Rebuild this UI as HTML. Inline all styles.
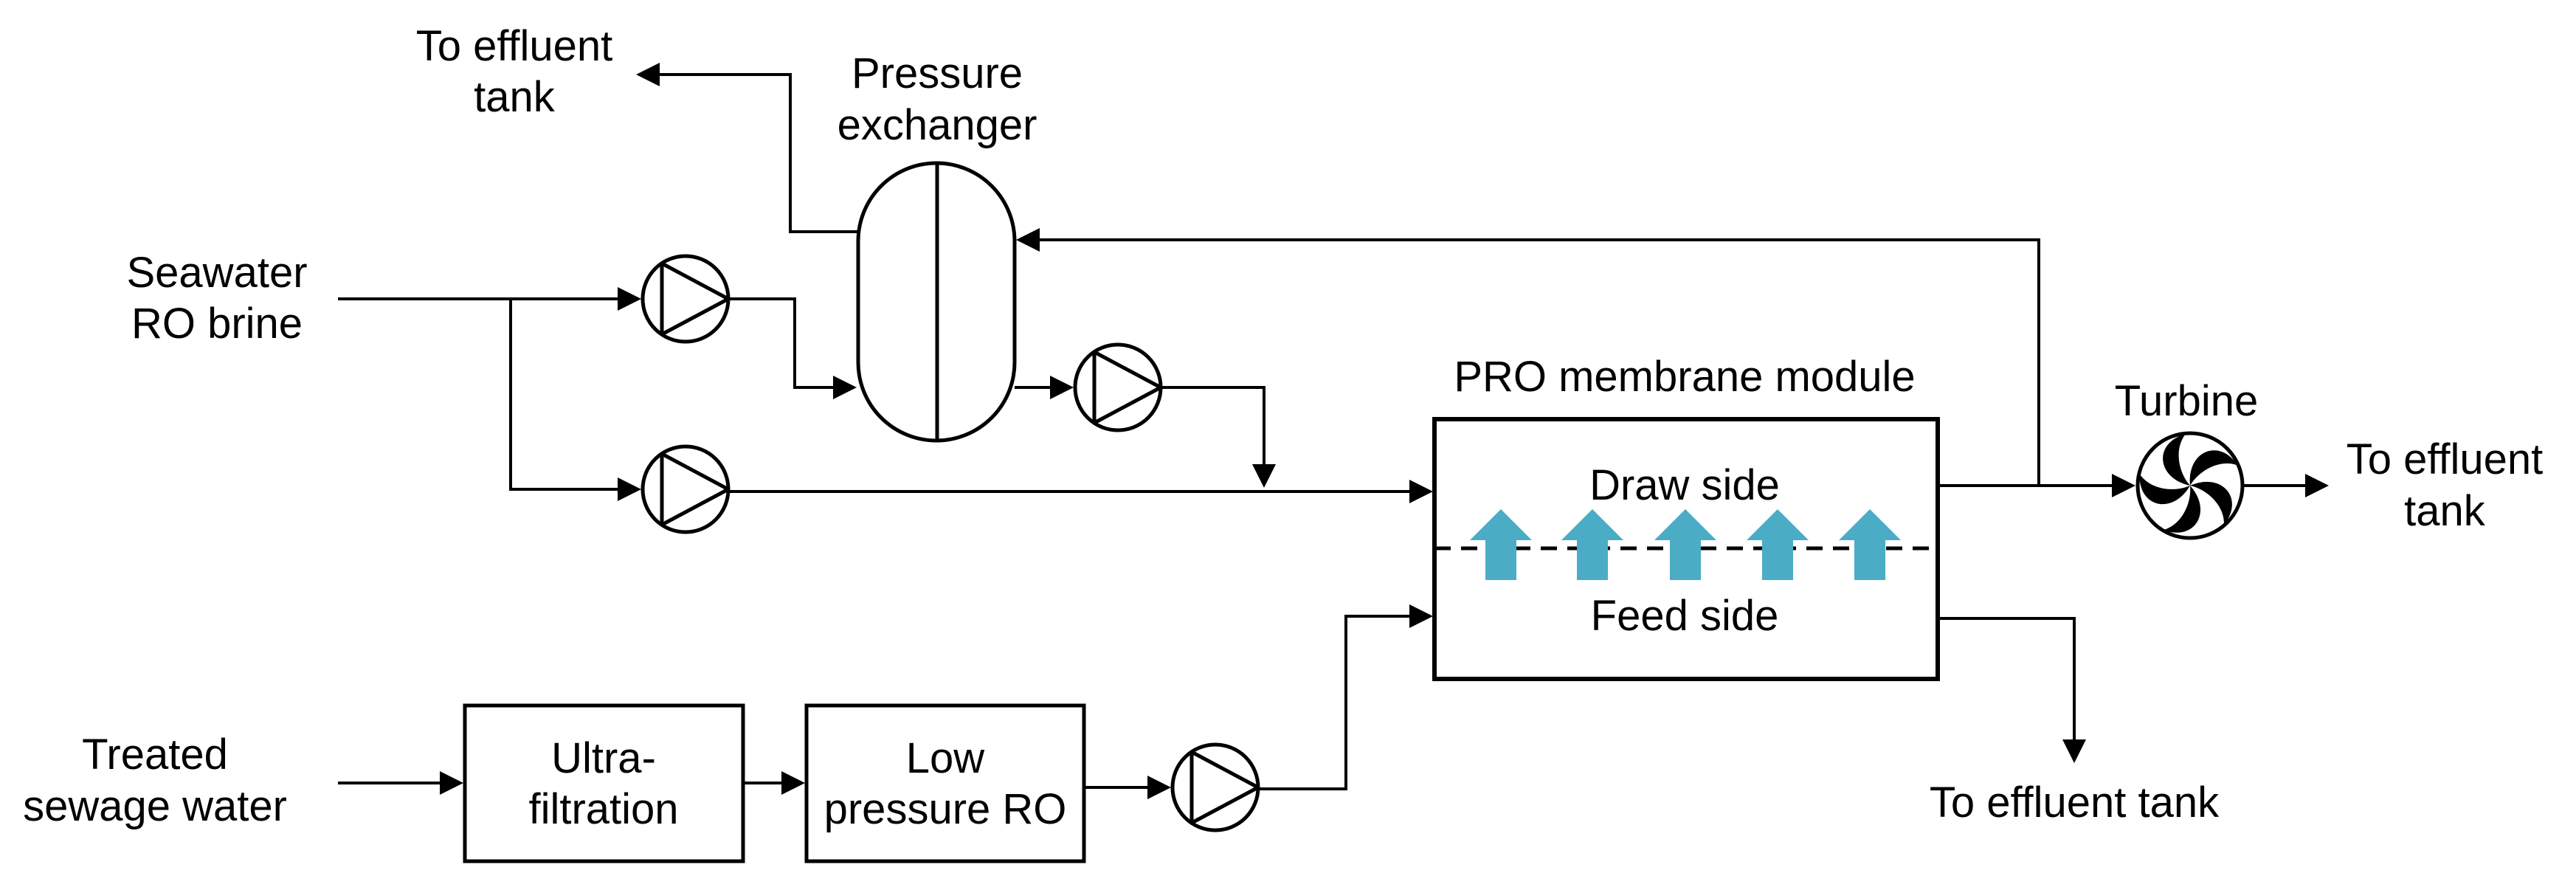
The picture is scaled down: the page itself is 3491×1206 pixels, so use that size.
<!DOCTYPE html>
<html><head><meta charset="utf-8"><style>
html,body{margin:0;padding:0;background:#fff;}
svg{display:block;}
text{font-family:"Liberation Sans",sans-serif;font-size:58px;fill:#000;text-anchor:middle;}
</style></head><body>
<svg width="3491" height="1206" viewBox="0 0 3491 1206" xmlns="http://www.w3.org/2000/svg">
<defs>
<marker id="a" markerWidth="8" markerHeight="8" refX="7" refY="4" orient="auto" markerUnits="strokeWidth">
<path d="M0,0 L8,4 L0,8 Z" fill="#000"/>
</marker>
<g id="pump">
<circle cx="0" cy="0" r="58" fill="#fff" stroke="#000" stroke-width="5"/>
<path d="M-32,-48 L-32,48 L58,0 Z" fill="none" stroke="#000" stroke-width="5" stroke-linejoin="round"/>
</g>
</defs>
<g stroke="#000" stroke-width="4" fill="none">
<polyline points="1163,314 1071,314 1071,101 866,101" marker-end="url(#a)"/>
<polyline points="458,405 865,405" marker-end="url(#a)"/>
<polyline points="692,405 692,663 865,663" marker-end="url(#a)"/>
<polyline points="987,405 1077,405 1077,525 1157,525" marker-end="url(#a)"/>
<polyline points="1375,525 1451,525" marker-end="url(#a)"/>
<polyline points="1573,525 1713,525 1713,657" marker-end="url(#a)"/>
<polyline points="987,666 1938,666" marker-end="url(#a)"/>
<polyline points="2763,657 2763,325 1381,325" marker-end="url(#a)"/>
<polyline points="2626,658 2890,658" marker-end="url(#a)"/>
<polyline points="3040,658 3152,658" marker-end="url(#a)"/>
<polyline points="2626,838 2811,838 2811,1030" marker-end="url(#a)"/>
<polyline points="458,1061 624,1061" marker-end="url(#a)"/>
<polyline points="1007,1061 1087,1061" marker-end="url(#a)"/>
<polyline points="1469,1067 1583,1067" marker-end="url(#a)"/>
<polyline points="1705,1069 1824,1069 1824,835 1938,835" marker-end="url(#a)"/>
</g>
<rect x="1163" y="221" width="212" height="376" rx="106" ry="106" fill="#fff" stroke="#000" stroke-width="5"/>
<line x1="1270" y1="221" x2="1270" y2="597" stroke="#000" stroke-width="5"/>
<use href="#pump" x="929" y="405"/>
<use href="#pump" x="929" y="663"/>
<use href="#pump" x="1515" y="525"/>
<use href="#pump" x="1647" y="1067"/>
<rect x="630" y="956" width="377" height="211" fill="none" stroke="#000" stroke-width="5"/>
<rect x="1093" y="956" width="376" height="211" fill="none" stroke="#000" stroke-width="5"/>
<rect x="1944" y="568" width="682" height="352" fill="none" stroke="#000" stroke-width="6"/>
<line x1="1944" y1="743" x2="2626" y2="743" stroke="#000" stroke-width="5" stroke-dasharray="22,14"/>
<g fill="#4BACC6">
<path d="M2034,690 l42,42 h-21 v54 h-42 v-54 h-21 z"/>
<path d="M2158,690 l42,42 h-21 v54 h-42 v-54 h-21 z"/>
<path d="M2284,690 l42,42 h-21 v54 h-42 v-54 h-21 z"/>
<path d="M2409,690 l42,42 h-21 v54 h-42 v-54 h-21 z"/>
<path d="M2534,690 l42,42 h-21 v54 h-42 v-54 h-21 z"/>
</g>
<g transform="translate(2968,658)">
<circle r="71" fill="#fff" stroke="#000" stroke-width="5"/>
<g fill="#000">
<path id="bl" d="M0,0 C-46,-10 -50,-58 -6,-70 C-22,-50 -16,-18 0,0 Z"/>
<use href="#bl" transform="rotate(72)"/>
<use href="#bl" transform="rotate(144)"/>
<use href="#bl" transform="rotate(216)"/>
<use href="#bl" transform="rotate(288)"/>
</g>
</g>
<text x="697" y="82">To effluent</text>
<text x="697" y="151">tank</text>
<text x="1270" y="119">Pressure</text>
<text x="1270" y="189">exchanger</text>
<text x="294" y="389">Seawater</text>
<text x="294" y="458">RO brine</text>
<text x="210" y="1042">Treated</text>
<text x="210" y="1112">sewage water</text>
<text x="818" y="1047">Ultra-</text>
<text x="818" y="1116">filtration</text>
<text x="1281" y="1047">Low</text>
<text x="1281" y="1116">pressure RO</text>
<text x="2283" y="530">PRO membrane module</text>
<text x="2283" y="677">Draw side</text>
<text x="2283" y="854">Feed side</text>
<text x="2963" y="563">Turbine</text>
<text x="3313" y="642">To effluent</text>
<text x="3313" y="712">tank</text>
<text x="2811" y="1107">To effluent tank</text>
</svg>
</body></html>
